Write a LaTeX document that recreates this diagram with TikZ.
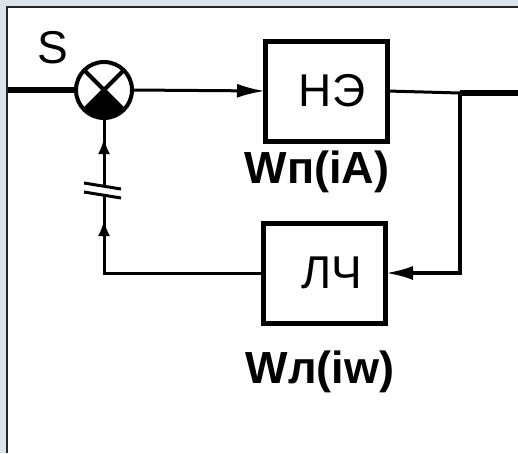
\documentclass[tikz,border=0pt]{standalone}
\usepackage{fontspec}
\setmainfont{Liberation Sans}
\usetikzlibrary{arrows.meta,positioning,calc}
\definecolor{framegray}{HTML}{DCE4EB}
\begin{document}
\begin{tikzpicture}[
  x=1pt, y=-1pt,
  blk/.style={rectangle, draw, line width=5pt, outer sep=0pt, minimum width=122pt, minimum height=100pt, font=\fontsize{46}{46}\selectfont},
  lbl/.style={font=\fontsize{46}{46}\selectfont, inner sep=0pt},
  wlbl/.style={lbl, font=\fontsize{45}{45}\selectfont\bfseries},
  sumnode/.style={circle, draw, line width=4pt, outer sep=0pt, inner sep=0pt, minimum size=56pt},
  sig/.style={line width=3pt},
  arr/.style={sig, -{Latex[length=28pt,width=14pt]}},
  marr/.style={sig, -{Latex[length=16pt,width=12pt]}},
]
  % frame
  \useasboundingbox (0,0) rectangle (518,453);
  \fill[framegray] (0,0) rectangle (518,453);
  \fill[white] (8,8) rectangle (518,453);
  \draw[line width=2pt, black!85] (7,453) -- (7,7) -- (518,7);

  % summing junction
  \node[sumnode] (sum) at (104,90) {};
  \draw[line width=4pt] (sum.45) -- (sum.225) (sum.135) -- (sum.-45);
  \fill (sum.center) -- (sum.-45) -- (sum.-60) -- (sum.-75) -- (sum.-90)
    -- (sum.-105) -- (sum.-120) -- (sum.-135) -- cycle;
  \node[lbl] (s) at (53,48) {S};

  % blocks
  \node[blk] (ne) at (326,91) {\raisebox{-11pt}{\hspace*{12pt}НЭ}};
  \node[wlbl, below=10pt of ne, xshift=-9pt] (wn) {Wп(iA)};
  \node[blk] (lch) at (324,273) {\raisebox{-12pt}{\hspace*{16pt}ЛЧ}};
  \node[wlbl, below=28pt of lch, xshift=-4pt] (wl) {Wл(iw)};

  % forward path
  \coordinate (in) at (8,90);
  \coordinate (br) at (460,93);
  \coordinate (out) at (518,93);
  \draw[line width=6pt] (in) -- (sum.west);
  \draw[arr] (sum.east) -- (ne.west);
  \draw[sig] (ne.east) -- (br);
  \draw[line width=6pt] (br) -- (out);

  % feedback
  \draw[arr, line width=4pt] (br) |- (lch.east);
  \coordinate (fbc) at (sum.south |- lch.west);
  \coordinate (brkb) at (104,195);
  \coordinate (brkt) at (104,187);
  \coordinate (tipb) at (104,220);
  \coordinate (tipt) at (104,138);
  \draw[sig] (lch.west) -- (fbc) -- (brkb);
  \draw[marr] (fbc) -- (tipb);
  \draw[sig] (brkt) -- (sum.south);
  \draw[marr] (brkt) -- (tipt);
  \draw[sig] (84,183) -- (121,189);
  \draw[sig] (84,192) -- (121,198);
\end{tikzpicture}
\end{document}
